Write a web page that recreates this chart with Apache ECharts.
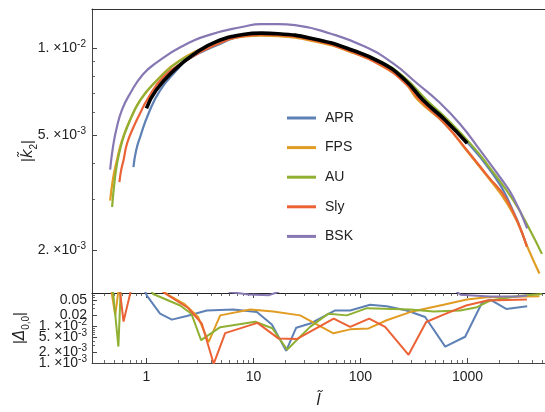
<!DOCTYPE html>
<html><head><meta charset="utf-8">
<script src="https://cdn.jsdelivr.net/npm/echarts@6/dist/echarts.min.js"></script>
<style>html,body{margin:0;padding:0;background:#fff}#c{width:545px;height:412px}</style>
</head><body><div id="c"></div>
<script>
// ---- tick values ----
const xTickLabels = [1, 10, 100, 1000];
const xMinorTicks = [0.4,0.5,0.6,0.7,0.8,0.9,2,3,4,5,6,7,8,9,20,30,40,50,60,70,80,90,200,300,400,500,600,700,800,900,2000,3000,4000,5000];
const kTickLabels = [2e-3, 5e-3, 1e-2];
const kMinorTicks = [3e-3,4e-3,6e-3,7e-3,8e-3,9e-3];
const dTickLabelsA = [1e-3, 5e-3, 2e-2];
const dTickLabelsB = [2e-3, 1e-2, 5e-2];
const dMinorTicks = [3e-3,4e-3,6e-3,7e-3,8e-3,9e-3,3e-2,4e-2,6e-2,7e-2];
const seriesNames = ['APR','FPS','AU','Sly','BSK'];
const seriesColors = ['#5E81B5','#E19C24','#8FB032','#EB6235','#8778B3'];

// ---- top panel |k2| vs l ----
const k2_APR = [[0.756,3.88e-3],[0.801,4.43e-3],[0.873,4.93e-3],[1.044,5.94e-3],[1.343,7.16e-3],[1.923,8.41e-3],[2.386,9.11e-3],[4.386,1.019e-2],[8.01,1.103e-2],[11.8,1.112e-2],[17.0,1.108e-2],[36.1,1.069e-2],[76.7,9.86e-3],[159.5,8.75e-3],[261.7,7.64e-3],[377,6.61e-3],[619,5.59e-3],[1060,4.61e-3],[1630,3.78e-3],[2335,3.05e-3],[3591,2.07e-3]];
const k2_FPS = [[0.458,2.97e-3],[0.488,3.55e-3],[0.529,4.09e-3],[0.580,4.69e-3],[0.656,5.33e-3],[0.751,5.96e-3],[0.873,6.61e-3],[1.251,7.76e-3],[2.065,9.11e-3],[4.386,1.035e-2],[8.01,1.099e-2],[11.8,1.108e-2],[17.0,1.103e-2],[36.1,1.060e-2],[76.7,9.79e-3],[159.5,8.68e-3],[261.7,7.58e-3],[346,6.61e-3],[619,5.46e-3],[994,4.40e-3],[1528,3.60e-3],[2350,2.90e-3],[3108,2.38e-3],[3614,2.06e-3],[4700,1.66e-3]];
const k2_AU = [[0.478,2.82e-3],[0.499,3.35e-3],[0.532,4.00e-3],[0.580,4.61e-3],[0.660,5.33e-3],[0.873,6.61e-3],[1.259,7.76e-3],[2.065,9.07e-3],[4.386,1.035e-2],[8.01,1.108e-2],[11.8,1.121e-2],[17.0,1.117e-2],[36.1,1.077e-2],[76.7,9.98e-3],[159.5,8.96e-3],[261.7,7.89e-3],[417,6.61e-3],[619,5.77e-3],[1138,4.55e-3],[1630,3.84e-3],[2691,2.97e-3],[3855,2.34e-3],[4959,1.94e-3]];
const k2_Sly = [[0.559,3.44e-3],[0.580,3.78e-3],[0.610,4.09e-3],[0.660,4.69e-3],[0.756,5.33e-3],[0.873,5.96e-3],[1.009,6.61e-3],[1.442,7.97e-3],[2.386,9.11e-3],[4.386,1.027e-2],[8.01,1.103e-2],[11.8,1.117e-2],[17.0,1.112e-2],[36.1,1.069e-2],[76.7,9.83e-3],[159.5,8.71e-3],[261.7,7.58e-3],[361,6.61e-3],[619,5.46e-3],[994,4.43e-3],[1528,3.63e-3],[2350,2.97e-3],[3591,2.05e-3]];
const k2_BSK = [[0.458,3.80e-3],[0.488,4.58e-3],[0.529,5.33e-3],[0.593,6.15e-3],[0.704,6.98e-3],[0.93,8.14e-3],[1.26,8.96e-3],[2.11,1.013e-2],[3.81,1.112e-2],[8.0,1.189e-2],[11.8,1.215e-2],[17,1.215e-2],[24.5,1.205e-2],[52,1.127e-2],[111,1.013e-2],[202,8.87e-3],[339,7.56e-3],[532,6.56e-3],[855,5.46e-3],[1314,4.43e-3],[2021,3.57e-3],[2674,3.05e-3],[3614,2.38e-3]];
const k2_fit = [[1.0,6.2e-3],[1.23,7.16e-3],[1.82,8.41e-3],[2.85,9.61e-3],[4.39,1.052e-2],[8.0,1.117e-2],[11.8,1.13e-2],[17,1.125e-2],[36,1.081e-2],[77,9.98e-3],[160,8.89e-3],[262,7.76e-3],[386,6.61e-3],[620,5.64e-3],[994,4.69e-3]];

// ---- bottom panel |Delta00| vs l ----
const d_APR = [[0.756,0.5],[1.009,0.0678],[1.34,0.0219],[1.727,0.0151],[2.386,0.0189],[3.67,0.0268],[6.5,0.0286],[10.76,0.0242],[14.86,0.0111],[20.2,0.00214],[25.1,0.00912],[33.9,0.0118],[58,0.0268],[80.1,0.0268],[123,0.0382],[176,0.035],[271,0.0268],[402,0.0178],[619,0.00279],[951,0.00517],[1370,0.044],[1630,0.053],[2300,0.0295],[3614,0.035]];
const d_FPS = [[0.458,0.15],[0.511,0.02],[0.56,0.15],[1.2,0.15],[1.55,0.075],[2.25,0.0406],[3.04,0.0178],[3.81,0.0037],[4.89,0.0197],[9.31,0.0286],[15.3,0.0252],[27.3,0.0197],[55.9,0.0064],[80.1,0.0082],[119,0.0087],[176,0.0145],[291,0.0242],[597,0.0382],[987,0.053],[1518,0.061],[4700,0.0657]];
const d_AU = [[0.478,0.15],[0.547,0.0028],[0.575,0.1],[1.0,0.15],[1.155,0.075],[2.065,0.0366],[2.63,0.0219],[3.24,0.0042],[4.89,0.0094],[10.4,0.0132],[15,0.0088],[20.6,0.0023],[33.8,0.0096],[50.2,0.0219],[74.6,0.0197],[115,0.031],[291,0.0286],[481,0.0252],[855,0.0268],[1225,0.0329],[1630,0.0498],[3108,0.0678],[4959,0.0753]];
const d_Sly = [[0.559,0.12],[0.611,0.0134],[0.72,0.1],[1.2,0.15],[1.445,0.083],[2.454,0.0313],[3.29,0.0118],[4.25,0.00095],[5.44,0.0065],[10.9,0.0123],[17.2,0.0046],[25.6,0.0045],[56.2,0.0161],[80.1,0.0096],[120.6,0.0161],[170,0.0096],[281.5,0.00167],[411,0.013],[597,0.0206],[972,0.0366],[1528,0.0498],[3591,0.053]];
const d_BSK = [[0.458,0.3],[4,0.2],[6,0.085],[9,0.073],[14,0.07],[17,0.085],[25,0.2],[500,0.2],[700,0.12],[860,0.072],[1630,0.064],[2900,0.064],[3614,0.068]];

const k2Data = [k2_APR, k2_FPS, k2_AU, k2_Sly, k2_BSK];
const dData = [d_APR, d_FPS, d_AU, d_Sly, d_BSK];

const FONT = 'Liberation Sans, Arial, sans-serif';
const AXC = '#444';
const xMin = 0.31, xMax = 5300;

function sciLabel(v){
  if (v >= 0.015) return '{b|' + v.toFixed(2) + '}';
  const e = Math.floor(Math.log10(v) + 1e-6);
  const m = Math.round(v / Math.pow(10, e));
  return '{b|' + m + '. \u00d710}{s|' + e + '}';
}
const labRich = {
  b: {fontSize: 14, lineHeight: 18, color: '#222', fontFamily: FONT},
  s: {fontSize: 10, lineHeight: 10, verticalAlign: 'top', color: '#222', fontFamily: FONT}
};

function xAx(grid, pos, o){
  return Object.assign({
    type: 'log', logBase: 10, gridIndex: grid, position: pos, min: xMin, max: xMax,
    axisLine: {show: false, lineStyle: {color: AXC, width: 1}},
    axisTick: {show: false},
    axisLabel: {show: false},
    splitLine: {show: false}, minorTick: {show: false}
  }, o);
}
function yAx(grid, mn, mx, o){
  return Object.assign({
    type: 'log', logBase: 10, gridIndex: grid, position: 'left', min: mn, max: mx,
    axisLine: {show: false, lineStyle: {color: AXC, width: 1}},
    axisTick: {show: false},
    axisLabel: {show: false},
    splitLine: {show: false}
  }, o);
}
const majTick = (vals) => ({show: true, inside: true, length: 5, customValues: vals, lineStyle: {color: AXC, width: 1}});
const minTick = (vals) => ({show: true, inside: true, length: 3, customValues: vals, lineStyle: {color: AXC, width: 0.8}});
const dLabel = (vals) => ({show: true, customValues: vals, margin: 5, formatter: sciLabel, rich: labRich,
  hideOverlap: false, showMinLabel: true, showMaxLabel: true});

const series = [];
seriesNames.forEach((n, i) => {
  series.push({name: n, type: 'line', xAxisIndex: 0, yAxisIndex: 0, data: k2Data[i], showSymbol: false, symbol: 'none',
    smooth: 0.5, lineStyle: {color: seriesColors[i], width: 2.2}, itemStyle: {color: seriesColors[i]}, z: 2});
});
series.push({name: 'fit', type: 'line', xAxisIndex: 0, yAxisIndex: 0, data: k2_fit, symbol: 'none',
  smooth: 0.5, lineStyle: {color: '#000', width: 3.6}, itemStyle: {color: '#000'}, z: 3});
seriesNames.forEach((n, i) => {
  series.push({name: n, type: 'line', xAxisIndex: 1, yAxisIndex: 2, data: dData[i], symbol: 'none',
    lineStyle: {color: seriesColors[i], width: 2}, itemStyle: {color: seriesColors[i]}, z: 2});
});

const nameRich = {
  p: {fontSize: 15, lineHeight: 22, color: '#222', fontFamily: FONT},
  k: {fontSize: 15, lineHeight: 22, fontStyle: 'italic', color: '#222', fontFamily: 'DejaVu Sans, sans-serif'},
  sub: {fontSize: 10, lineHeight: 10, verticalAlign: 'bottom', color: '#222', fontFamily: FONT}
};

const option = {
  animation: false,
  backgroundColor: '#fff',
  textStyle: {fontFamily: FONT},
  grid: [
    {left: 92, top: 9, right: 0, height: 284, containLabel: false, outerBoundsMode: 'none'},
    {left: 92, top: 293, right: 0, height: 70, containLabel: false, outerBoundsMode: 'none'}
  ],
  legend: {
    data: seriesNames, orient: 'vertical', left: 287, top: 110, padding: 0,
    icon: 'rect', itemWidth: 29, itemHeight: 3, itemGap: 13.6,
    textStyle: {fontSize: 14, color: '#222', lineHeight: 16, fontFamily: FONT, padding: [0,0,0,4]}
  },
  xAxis: [
    xAx(0, 'top', {axisLine: {show: true, lineStyle: {color: '#333', width: 1.2}}}),
    xAx(1, 'bottom', {
      axisLine: {show: true, lineStyle: {color: AXC, width: 1}},
      axisTick: majTick(xTickLabels),
      axisLabel: {show: true, customValues: xTickLabels, margin: 7, fontSize: 14, color: '#222', fontFamily: FONT,
        formatter: v => String(Math.round(v))},
      name: 'l\u0303', nameLocation: 'middle', nameGap: 30, nameMoveOverlap: false,
      nameTextStyle: {fontSize: 16, fontStyle: 'italic', color: '#222', fontFamily: 'DejaVu Sans, sans-serif'}
    }),
    xAx(1, 'bottom', {axisTick: minTick(xMinorTicks)}),
    xAx(1, 'top', {axisLine: {show: true, lineStyle: {color: '#222', width: 1.2}}, axisTick: majTick(xTickLabels)}),
    xAx(1, 'top', {axisTick: minTick(xMinorTicks)})
  ],
  yAxis: [
    yAx(0, 1.42e-3, 1.37e-2, {
      axisLine: {show: true, lineStyle: {color: AXC, width: 1}},
      axisTick: majTick(kTickLabels),
      axisLabel: {show: true, customValues: kTickLabels, margin: 6, formatter: sciLabel, rich: labRich},
      name: '{p||}{k|k\u0303}{sub|2}{p||}', nameLocation: 'middle', nameRotate: 90, nameGap: 53, nameMoveOverlap: false,
      nameTextStyle: {rich: nameRich}
    }),
    yAx(0, 1.42e-3, 1.37e-2, {axisTick: minTick(kMinorTicks)}),
    yAx(1, 0.000998, 0.08, {
      axisLine: {show: true, lineStyle: {color: AXC, width: 1}},
      axisTick: majTick(dTickLabelsA.concat(dTickLabelsB)),
      axisLabel: dLabel(dTickLabelsA),
      name: '{p||}{k|\u0394}{sub|0,0}{p||}', nameLocation: 'middle', nameRotate: 90, nameGap: 61, nameMoveOverlap: false,
      nameTextStyle: {rich: nameRich}
    }),
    yAx(1, 0.000998, 0.08, {axisTick: minTick(dMinorTicks), axisLabel: dLabel(dTickLabelsB)})
  ],
  series: series
};
const chart = echarts.init(document.getElementById('c'), null, {renderer: 'canvas'});
chart.setOption(option);
</script>
</body></html>
